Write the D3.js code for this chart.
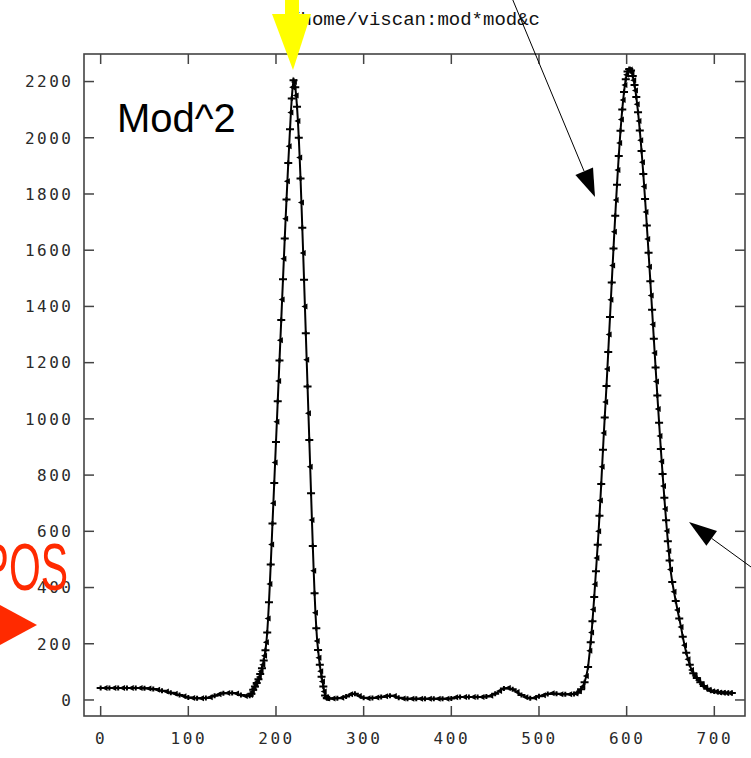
<!DOCTYPE html>
<html><head><meta charset="utf-8">
<script src="https://cdn.jsdelivr.net/npm/d3@7"></script>
<style>html,body{margin:0;padding:0;background:#fff;}svg{display:block;}</style>
</head><body>
<svg id="chart" width="751" height="758"></svg>
<script>
// ---- data ----
const xTicks = [0, 100, 200, 300, 400, 500, 600, 700];
const yTicks = [0, 200, 400, 600, 800, 1000, 1200, 1400, 1600, 1800, 2000, 2200];
const titleText = "/home/viscan:mod*mod&c";
const panelLabel = "Mod^2";
const sideLabel = "POS";

const baseLeft = [[0,43],[5,43],[10,43],[15,43],[20,43],[25,43],[30,43],[35,43],[40,43],[45,43],[50,42],[55,41],[60,39],[65,36],[70,33],[75,30],[80,26],[85,22],[90,18],[95,13],[100,9],[105,7],[110,6],[115,6],[120,7],[125,10],[130,15],[135,20],[140,24],[145,25],[150,25],[155,23],[160,18],[165,14],[170,15]];
const peak1 = [[171,18],[172,22],[173,28],[174,36],[175,42],[176,48],[177,54],[178,60],[179,67],[180,74],[181,82],[182,92],[183,102],[184,113],[185,125],[186,140],[187,157],[188,177],[189,205],[190,240],[191,290],[192,348],[193,413],[194,482],[195,553],[196,628],[197,700],[198,772],[199,845],[200,918],[201,990],[202,1063],[203,1135],[204,1208],[205,1280],[206,1352],[207,1425],[208,1497],[209,1570],[210,1642],[211,1712],[212,1780],[213,1845],[214,1910],[215,1970],[216,2030],[217,2090],[218,2140],[219,2180],[220,2205],[221,2198],[222,2180],[223,2150],[224,2110],[225,2060],[226,2000],[227,1930],[228,1855],[229,1770],[230,1680],[231,1590],[232,1495],[233,1400],[234,1305],[235,1210],[236,1115],[237,1020],[238,925],[239,830],[240,735],[241,640],[242,548],[243,460],[244,380],[245,310],[246,255],[247,210],[248,178],[249,150],[250,125],[251,102],[252,83],[253,66],[254,48],[255,30],[256,16],[257,9],[258,6],[259,5]];
const baseMid = [[260,5],[265,5],[270,6],[275,8],[280,12],[285,20],[290,22],[295,14],[300,8],[305,6],[310,7],[315,9],[320,11],[325,13],[330,15],[335,14],[340,8],[345,5],[350,4],[355,4],[360,4],[365,4],[370,4],[375,4],[380,4],[385,4],[390,4],[395,4],[400,5],[405,10],[410,11],[415,11],[420,11],[425,11],[430,11],[435,11],[440,12],[445,15],[450,22],[455,32],[460,41],[465,43],[470,38],[475,28],[480,18],[485,10],[490,6],[495,8],[500,13],[505,17],[510,21],[515,24],[520,22],[525,20],[530,20],[535,20],[540,21]];
const peak2Rise = [[542,23],[544,26],[546,31],[548,38],[550,48],[552,63],[554,85],[556,117],[558,175],[559,205],[560,240],[561,280],[562,322],[563,366],[564,412],[565,458],[566,505],[567,552],[568,600],[569,655],[570,710],[571,768],[572,830],[573,890],[574,950],[575,1005],[576,1060],[577,1117],[578,1177],[579,1238],[580,1300],[581,1362],[582,1424],[583,1485],[584,1546],[585,1606],[586,1666],[587,1723],[588,1779],[589,1833],[590,1885],[591,1935],[592,1981],[593,2025],[594,2065],[595,2101],[596,2134],[597,2163],[598,2188],[599,2208],[600,2224],[601,2236],[602,2243],[603,2245]];
const peak2Fall = [[604,2243],[605,2239],[606,2231],[607,2220],[608,2205],[609,2188],[610,2168],[611,2145],[612,2119],[613,2091],[614,2060],[615,2026],[616,1991],[617,1953],[618,1913],[619,1871],[620,1827],[621,1782],[622,1736],[623,1688],[624,1640],[625,1591],[626,1541],[627,1490],[628,1439],[629,1388],[630,1336],[631,1285],[632,1234],[633,1183],[634,1133],[635,1083],[636,1035],[637,986],[638,939],[639,893],[640,848],[641,804],[642,761],[643,719],[644,679],[645,639],[646,601],[647,565],[648,530],[649,496],[650,464],[652,420],[654,385],[656,352],[658,320],[660,290],[662,260],[664,225],[666,195],[668,168],[670,145],[672,125],[674,107],[676,95],[678,85],[680,78],[682,70],[684,63],[686,56],[688,50],[690,45],[692,40],[694,36],[696,33],[698,31],[700,30],[702,29],[704,28],[706,27],[708,27],[710,26],[712,26],[714,25],[716,25],[718,25],[720,25]];

const series = [].concat(baseLeft, peak1, baseMid, peak2Rise, peak2Fall);

// ---- layout ----
const svg = d3.select("#chart");
const L = 84, R = 745, T = 54, B = 716;
const x = d3.scaleLinear().domain([-19, 735]).range([L, R]);
const y = d3.scaleLinear().domain([-57, 2298]).range([B, T]);
const axisColor = "#444";
const tickLen = 10;

svg.append("rect").attr("width", 751).attr("height", 758).attr("fill", "#fff");

// ticks (inside, mirrored on all sides)
const g = svg.append("g");
xTicks.forEach(v => {
  g.append("line").attr("x1", x(v)).attr("x2", x(v)).attr("y1", B).attr("y2", B - tickLen)
    .attr("stroke", axisColor).attr("stroke-width", 1.5);
  g.append("line").attr("x1", x(v)).attr("x2", x(v)).attr("y1", T).attr("y2", T + tickLen)
    .attr("stroke", axisColor).attr("stroke-width", 1.5);
  g.append("text").attr("x", x(v) + 0.5).attr("y", 744)
    .attr("text-anchor", "middle")
    .attr("font-family", "'DejaVu Sans Mono', monospace").attr("font-size", 16)
    .attr("letter-spacing", 2.5).attr("fill", "#2a2a2a").text(v);
});
yTicks.forEach(v => {
  g.append("line").attr("x1", L).attr("x2", L + tickLen).attr("y1", y(v)).attr("y2", y(v))
    .attr("stroke", axisColor).attr("stroke-width", 1.5);
  g.append("line").attr("x1", R).attr("x2", R - tickLen).attr("y1", y(v)).attr("y2", y(v))
    .attr("stroke", axisColor).attr("stroke-width", 1.5);
  g.append("text").attr("x", 73.5).attr("y", y(v)).attr("dy", "0.36em")
    .attr("text-anchor", "end")
    .attr("font-family", "'DejaVu Sans Mono', monospace").attr("font-size", 16)
    .attr("letter-spacing", 2.5).attr("fill", "#2a2a2a").text(v);
});

// frame
svg.append("rect").attr("x", L).attr("y", T).attr("width", R - L).attr("height", B - T)
  .attr("fill", "none").attr("stroke", axisColor).attr("stroke-width", 1.6);

// data line
const line = d3.line().x(d => x(d[0])).y(d => y(d[1]));
svg.append("path").datum(series).attr("d", line)
  .attr("fill", "none").attr("stroke", "#000").attr("stroke-width", 2);

// markers: alternating plus and left triangles
const mk = svg.append("g");
series.forEach((d, i) => {
  const px = x(d[0]), py = y(d[1]);
  if (i % 2 === 0) {
    mk.append("path").attr("d", `M${px-4},${py}H${px+4}M${px},${py-2.5}V${py+2.5}`)
      .attr("stroke", "#000").attr("stroke-width", 2).attr("fill", "none");
  } else {
    mk.append("path").attr("d", `M${px-3.5},${py}L${px+2.5},${py-3}L${px+2.5},${py+3}Z`)
      .attr("fill", "#000");
  }
});

// title
svg.append("text").attr("x", 540).attr("y", 25).attr("text-anchor", "end")
  .attr("font-family", "'Liberation Mono', 'Courier New', monospace").attr("font-size", 19)
  .attr("fill", "#111").text(titleText);

// panel label
svg.append("text").attr("x", 117).attr("y", 132)
  .attr("font-family", "'Liberation Sans', Arial, sans-serif").attr("font-size", 40)
  .attr("fill", "#000").text(panelLabel);

// red label and arrow
const red = "#ff2a00";
svg.append("text").attr("transform", "translate(68,590) scale(0.62,1)")
  .attr("text-anchor", "end")
  .attr("font-family", "'Liberation Sans', Arial, sans-serif").attr("font-size", 66)
  .attr("fill", red).text(sideLabel);
svg.append("path").attr("d", "M-2,604L37,625L-2,646Z").attr("fill", red);

// yellow arrow
svg.append("rect").attr("x", 285).attr("y", -2).attr("width", 14).attr("height", 17).attr("fill", "#ffff00");
svg.append("path").attr("d", "M272,14L311,14L293,70Z").attr("fill", "#ffff00");

// black annotation arrows
svg.append("line").attr("x1", 512).attr("y1", -2).attr("x2", 584).attr("y2", 171)
  .attr("stroke", "#000").attr("stroke-width", 1);
svg.append("path").attr("d", "M595,197L575.4,174.9L593,167.5Z").attr("fill", "#000");
svg.append("line").attr("x1", 762).attr("y1", 575).attr("x2", 711.7).attr("y2", 538.4)
  .attr("stroke", "#000").attr("stroke-width", 1);
svg.append("path").attr("d", "M689,522L717,531L706.4,545.7Z").attr("fill", "#000");
</script>
</body></html>
